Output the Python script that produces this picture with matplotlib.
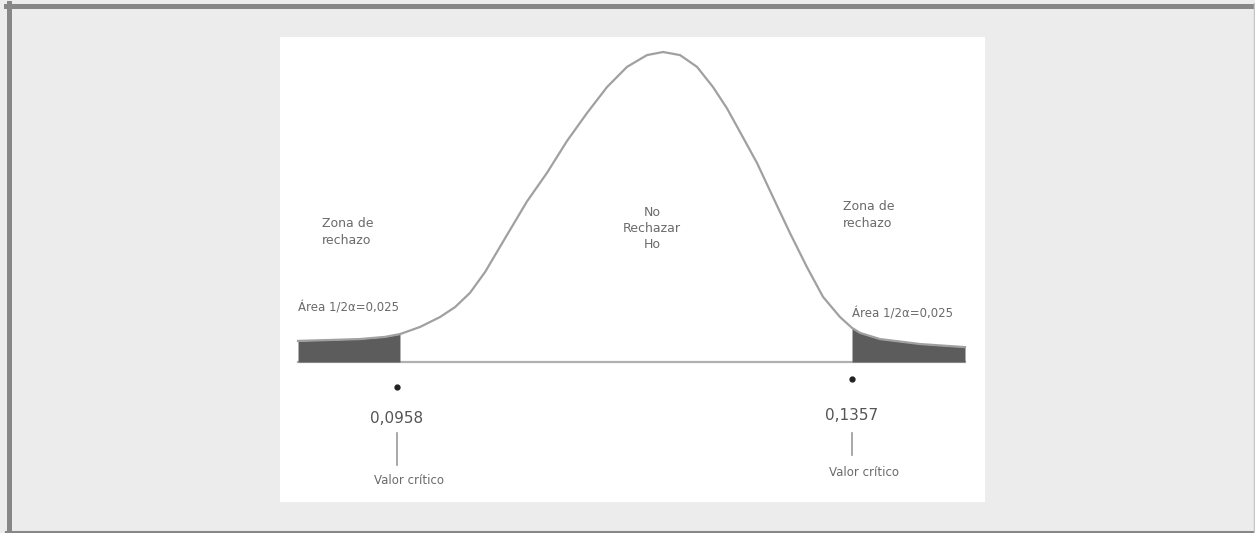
import matplotlib
matplotlib.use("Agg")
import matplotlib.pyplot as plt
from matplotlib.lines import Line2D
import numpy as np

# ---- data ----
# x in units of the test statistic, y = relative density height (peak = 1)
curve_x = [0.08712, 0.08993, 0.09256, 0.09475, 0.09606, 0.09782, 0.09957,
           0.10089, 0.10220, 0.10352, 0.10545, 0.10720, 0.10895, 0.11071,
           0.11246, 0.11422, 0.11597, 0.11772, 0.11913, 0.12062, 0.12211,
           0.12351, 0.12474, 0.12588, 0.12737, 0.12877, 0.13026, 0.13175,
           0.13316, 0.13465, 0.13570, 0.13640, 0.13815, 0.14166, 0.14561]
curve_y = [0.068, 0.071, 0.074, 0.081, 0.090, 0.113, 0.145,
           0.177, 0.223, 0.290, 0.410, 0.518, 0.610, 0.713,
           0.803, 0.887, 0.952, 0.990, 1.000, 0.990, 0.952,
           0.887, 0.818, 0.742, 0.642, 0.532, 0.416, 0.306,
           0.210, 0.145, 0.110, 0.094, 0.074, 0.058, 0.048]
critical_values = [0.0958, 0.1357]
critical_labels = ["0,0958", "0,1357"]
zone_label = "Zona de\nrechazo"
area_label = "Área 1/2α=0,025"
center_label = "No\nRechazar\nHo"
critical_text = "Valor crítico"

W, H = 1255, 533
fig = plt.figure(figsize=(W / 100, H / 100), dpi=100)
fig.patch.set_facecolor("#EBECEB")

# outer frame
def fx(px):
    return px / W
def fy(py):
    return 1 - py / H
fig.add_artist(Line2D([fx(6), fx(1255)], [fy(5.5), fy(5.5)], color="#878787", lw=3.6))
fig.add_artist(Line2D([fx(8.5), fx(8.5)], [fy(3), fy(533)], color="#878787", lw=3.6))
fig.add_artist(Line2D([fx(6), fx(1255)], [fy(531.5), fy(531.5)], color="#878787", lw=2.2))
fig.add_artist(Line2D([fx(1254), fx(1254)], [fy(3), fy(533)], color="#c4c4c4", lw=1.0))

# white panel axes: px x 280..985, y 37..502
ax = fig.add_axes([fx(280), fy(502), (985 - 280) / W, (502 - 37) / H])
ax.set_facecolor("white")
for s in ax.spines.values():
    s.set_visible(False)
ax.set_xticks([])
ax.set_yticks([])

k = (critical_values[1] - critical_values[0]) / (852 - 397)  # value per px
ax.set_xlim(critical_values[0] - 117 * k, critical_values[0] + 588 * k)
ax.set_ylim(-140 / 310, 325 / 310)

cx = np.array(curve_x)
cy = np.array(curve_y)

# baseline
ax.plot([cx[0], cx[-1]], [0, 0], color="#b0b0b0", lw=1.6, zorder=1)

# shaded rejection zones
left = cx <= critical_values[0] + 0.0003
right = cx >= critical_values[1] - 0.0001
ax.fill_between(cx[left], 0, cy[left], color="#5c5c5c", lw=0, zorder=2)
ax.fill_between(cx[right], 0, cy[right], color="#5c5c5c", lw=0, zorder=2)

# curve
ax.plot(cx, cy, color="#a0a0a0", lw=1.6, zorder=3, solid_joinstyle="round")

txt = "#6a6a6a"
# zone labels
ax.text(critical_values[0] - 75 * k, 0.42, zone_label, ha="left", va="center",
        fontsize=9, color=txt, linespacing=1.4)
ax.text(critical_values[1] - 9 * k, 0.475, zone_label, ha="left", va="center",
        fontsize=9, color=txt, linespacing=1.4)
ax.text(critical_values[0] - 99 * k, 0.175, area_label, ha="left", va="center",
        fontsize=8.5, color=txt)
ax.text(critical_values[1] + 0 * k, 0.155, area_label, ha="left", va="center",
        fontsize=8.5, color=txt)
ax.text(critical_values[0] + 255 * k, 0.43, center_label, ha="center", va="center",
        fontsize=9, color=txt, linespacing=1.3)

# critical value markers
dot_y = [-0.081, -0.055]
num_y = [-0.181, -0.174]
line_top = [-0.229, -0.229]
line_bot = [-0.332, -0.300]
crit_y = [-0.381, -0.355]
for cv, lab, dy, ny, lt, lb, cyy in zip(critical_values, critical_labels, dot_y,
                                         num_y, line_top, line_bot, crit_y):
    ax.plot([cv], [dy], marker="o", ms=3.5, color="#222222", zorder=4)
    ax.text(cv, ny, lab, ha="center", va="center", fontsize=11, color="#555555")
    ax.plot([cv, cv], [lt, lb], color="#999999", lw=1.2)
    ax.text(cv - 23 * k, cyy, critical_text, ha="left", va="center",
            fontsize=8.5, color=txt)

fig.savefig("out.png", dpi=100, facecolor=fig.get_facecolor())
